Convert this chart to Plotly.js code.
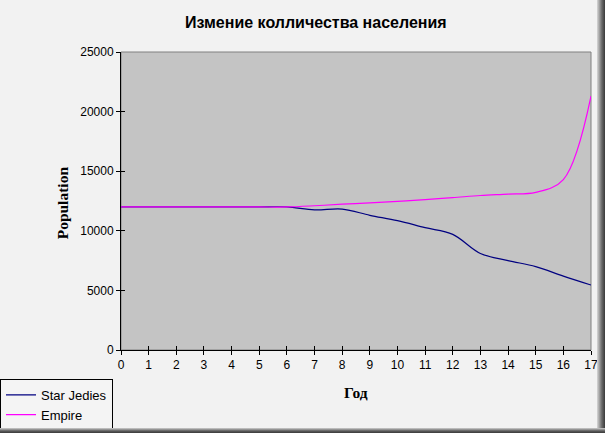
<!DOCTYPE html>
<html>
<head>
<meta charset="utf-8">
<script src="https://cdn.plot.ly/plotly-3.0.1.min.js"></script>
<style>
  html, body { margin: 0; padding: 0; background: #f2f2f2; }
  #wrap { position: relative; width: 605px; height: 433px; overflow: hidden; }
  #chart { width: 605px; height: 433px; }
  .shadowR { position: absolute; left: 597px; top: 0; width: 8px; height: 433px;
             background: linear-gradient(to right, #d8d8d8, #6a6a6a 60%, #3a3a3a); pointer-events: none; }
  .shadowB { position: absolute; left: 0; top: 428px; width: 605px; height: 5px;
             background: linear-gradient(to bottom, #cfcfcf, #5a5a5a 60%, #3a3a3a); pointer-events: none; }
</style>
</head>
<body>
<div id="wrap">
  <div id="chart"></div>
  <div class="shadowR"></div>
  <div class="shadowB"></div>
</div>
<script>
// Data
const years = [0, 1, 2, 3, 4, 5, 6, 7, 8, 9, 10, 11, 12, 13, 14, 15, 16, 17];
const starJedies = [12000, 12000, 12000, 12000, 12000, 12000, 12000, 11750, 11820, 11300, 10850, 10260, 9700, 8100, 7500, 7000, 6200, 5450];
const empire = [12000, 12000, 12000, 12000, 12000, 12000, 12000, 12100, 12230, 12350, 12470, 12620, 12780, 12960, 13080, 13220, 14300, 21300];
const xTicks = [0, 1, 2, 3, 4, 5, 6, 7, 8, 9, 10, 11, 12, 13, 14, 15, 16, 17];
const yTicks = [0, 5000, 10000, 15000, 20000, 25000];
const seriesNames = ["Star Jedies", "Empire"];
const chartTitle = "Измение колличества населения";
const xTitle = "Год";
const yTitle = "Population";

const traces = [
  { x: years, y: starJedies, name: seriesNames[0], type: "scatter", mode: "lines",
    line: { color: "#000080", width: 1.2, shape: "spline", smoothing: 1 } },
  { x: years, y: empire, name: seriesNames[1], type: "scatter", mode: "lines",
    line: { color: "#ff00ff", width: 1.2, shape: "spline", smoothing: 1 } },
  // invisible trace to carry the inside-tick overlay axes
  { x: [0, 17], y: [0, 25000], xaxis: "x2", yaxis: "y2", mode: "markers",
    marker: { opacity: 0 }, showlegend: false, hoverinfo: "skip" }
];

const tickFont = { family: "Liberation Sans, Arial, sans-serif", size: 12, color: "#000" };
const axTitleFont = { family: "Liberation Serif, Times New Roman, serif", size: 15.5, color: "#000", weight: "bold" };

const layout = {
  width: 605, height: 433,
  margin: { l: 121, r: 14, t: 52, b: 83 },
  paper_bgcolor: "#f2f2f2",
  plot_bgcolor: "#c4c4c4",
  title: { text: chartTitle, x: 0.522, xanchor: "center", y: 0.949, yanchor: "middle",
           font: { family: "Liberation Sans, Arial, sans-serif", size: 16, color: "#000", weight: "bold" } },
  xaxis: {
    range: [0, 17], tickvals: xTicks, ticktext: xTicks.map(String),
    ticks: "outside", ticklen: 4, tickcolor: "#000", tickwidth: 1,
    showgrid: false, zeroline: false, showline: true, linecolor: "#000", linewidth: 1,
    tickfont: tickFont, fixedrange: true
  },
  yaxis: {
    range: [0, 25000], tickvals: yTicks, ticktext: yTicks.map(String),
    ticks: "outside", ticklen: 4, tickcolor: "#000", tickwidth: 1,
    showgrid: false, zeroline: false, showline: true, linecolor: "#000", linewidth: 1,
    tickfont: tickFont, fixedrange: true
  },
  xaxis2: { overlaying: "x", anchor: "y", range: [0, 17], tickvals: xTicks, showticklabels: false,
            ticks: "inside", ticklen: 4, tickcolor: "#000", showgrid: false, zeroline: false,
            showline: false, side: "bottom", fixedrange: true },
  yaxis2: { overlaying: "y", anchor: "x", range: [0, 25000], tickvals: yTicks, showticklabels: false,
            ticks: "inside", ticklen: 4, tickcolor: "#000", showgrid: false, zeroline: false,
            showline: false, side: "left", fixedrange: true },
  annotations: [
    { text: xTitle, xref: "paper", yref: "paper", x: 0.5, y: -0.141, xanchor: "center", yanchor: "middle",
      showarrow: false, font: axTitleFont },
    { text: yTitle, xref: "paper", yref: "paper", x: -0.125, y: 0.493, xanchor: "center", yanchor: "middle",
      textangle: -90, showarrow: false, font: axTitleFont }
  ],
  shapes: [
    { type: "rect", xref: "paper", yref: "paper", x0: 0, x1: 1, y0: 0, y1: 1,
      line: { color: "#808080", width: 1 }, fillcolor: "rgba(0,0,0,0)", layer: "below" }
  ],
  showlegend: true,
  legend: {
    xref: "container", yref: "container", x: 0, y: 0.005, xanchor: "left", yanchor: "bottom",
    bgcolor: "rgba(245,245,245,0.6)", bordercolor: "#000", borderwidth: 1,
    font: { family: "Liberation Sans, Arial, sans-serif", size: 13, color: "#000" },
    itemwidth: 30, tracegroupgap: 0
  }
};

Plotly.newPlot("chart", traces, layout, { displayModeBar: false, staticPlot: true });
</script>
</body>
</html>
